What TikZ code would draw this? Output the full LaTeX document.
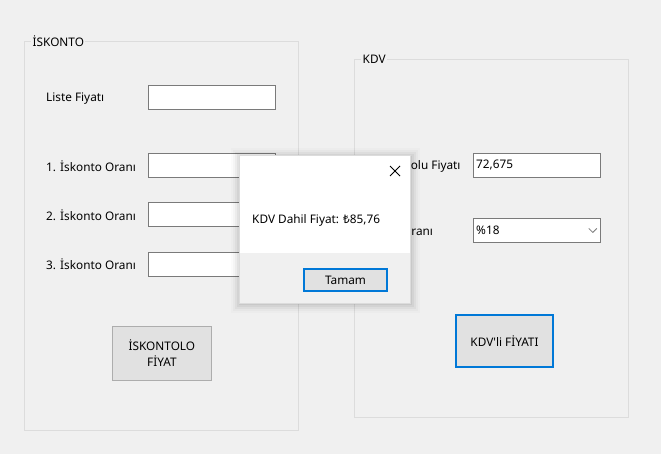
\documentclass[tikz,border=0pt]{standalone}
\usepackage{fontspec}
\setmainfont{Noto Sans}
\usetikzlibrary{positioning}
\definecolor{formbg}{HTML}{F0F0F0}
\definecolor{groupline}{HTML}{DCDCDC}
\definecolor{boxline}{HTML}{7A7A7A}
\definecolor{btnfill}{HTML}{E1E1E1}
\definecolor{btnline}{HTML}{ADADAD}
\definecolor{focus}{HTML}{0078D7}
\begin{document}
\begin{tikzpicture}
  [x=1pt, y=-1pt,
   every node/.style={font=\fontsize{11.8}{15}\selectfont, text=black},
   lbl/.style={anchor=west, inner sep=0pt},
   tbox/.style={draw=boxline, fill=white, anchor=north west, minimum width=127pt,
                minimum height=24pt, inner sep=0pt, line width=0.8pt},
   btn/.style={draw=btnline, fill=btnfill, anchor=north west, align=center,
               inner sep=0pt, line width=0.8pt},
   grouptitle/.style={anchor=west, fill=formbg, inner xsep=1.5pt, inner ysep=0pt}]
  % form background
  \fill[formbg] (0,0) rectangle (661,454);
  % İSKONTO group
  \draw[groupline, line width=0.8pt] (24,41) rectangle (298,430);
  \node[grouptitle] (iskTitle) at (31,41) {İSKONTO};
  \node[lbl] (liste) at (46,99) {Liste Fiyatı};
  \node[tbox] (listeBox) at (148,85) {};
  \node[lbl] (oran1) at (46,166) {1. İskonto Oranı};
  \node[tbox] (oran1Box) at (148,153) {};
  \node[lbl] (oran2) at (46,215) {2. İskonto Oranı};
  \node[tbox] (oran2Box) at (148,202) {};
  \node[lbl] (oran3) at (46,264) {3. İskonto Oranı};
  \node[tbox] (oran3Box) at (148,252) {};
  \node[btn, minimum width=99pt, minimum height=54pt] (iskBtn) at (112,326)
    {İSKONTOLO\\[1pt]FİYAT};
  % KDV group
  \draw[groupline, line width=0.8pt] (354,59) rectangle (628,417);
  \node[grouptitle] (kdvTitle) at (361,59) {KDV};
  \node[lbl] (iskFiyat) at (376,166) {İskontolu Fiyatı};
  \node[tbox] (iskFiyatBox) at (473,153) {};
  \node[lbl] at ([xshift=3pt]iskFiyatBox.west) {72,675};
  \node[lbl] (kdvOran) at (376,231) {KDV Oranı};
  \node[tbox] (kdvOranBox) at (473,218) {};
  \node[lbl] at ([xshift=3pt]kdvOranBox.west) {\%18};
  \draw[boxline, line width=0.8pt] ([xshift=-12pt,yshift=2pt]kdvOranBox.east)
    -- ([xshift=-8pt,yshift=-2pt]kdvOranBox.east) -- ([xshift=-4pt,yshift=2pt]kdvOranBox.east);
  \node[btn, draw=focus, line width=2pt, minimum width=97pt, minimum height=52pt]
    (kdvBtn) at (455,314) {KDV\textquotesingle li FİYATI};
  % message box with its shadow
  \foreach \s/\o in {10/0.015, 8/0.025, 6/0.035, 4/0.045, 2/0.05}
    \fill[black, opacity=\o] ({239-\s+2},{155-\s+3}) rectangle ({410+\s},{303+\s});
  \fill[white] (239,155) rectangle (410,253);
  \fill[formbg] (239,253) rectangle (410,303);
  \draw[groupline, line width=0.6pt] (239,155) rectangle (410,303);
  \draw[black, line width=0.9pt] (390,166) -- (400,176) (390,176) -- (400,166);
  \node[lbl] (msg) at (252,220) {KDV Dahil Fiyat: ₺85,76};
  \node[btn, draw=focus, line width=2pt, minimum width=83pt, minimum height=22pt]
    (tamam) at (303,268) {Tamam};
\end{tikzpicture}
\end{document}
